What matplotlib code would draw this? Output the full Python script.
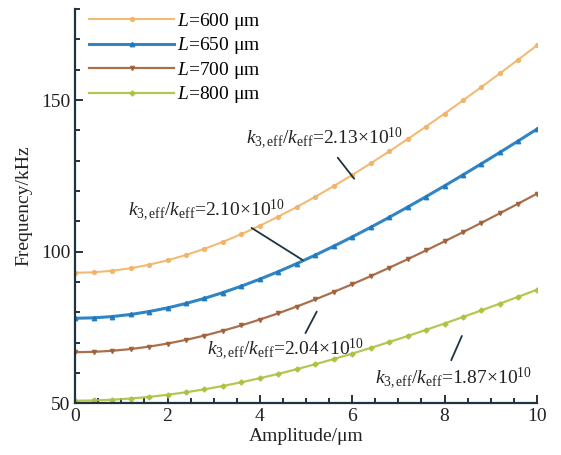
import matplotlib
matplotlib.use("Agg")
import matplotlib.pyplot as plt
import numpy as np

plt.rcParams['font.family'] = ['Liberation Serif', 'DejaVu Serif']
plt.rcParams['mathtext.fontset'] = 'custom'
plt.rcParams['mathtext.rm'] = 'Liberation Serif'
plt.rcParams['mathtext.it'] = 'Liberation Serif:italic'

# amplitude (um) and backbone frequencies (kHz)
amplitude = [0.0, 0.4, 0.8, 1.2, 1.6, 2.0, 2.4, 2.8, 3.2, 3.6, 4.0, 4.4, 4.8,
             5.2, 5.6, 6.0, 6.4, 6.8, 7.2, 7.6, 8.0, 8.4, 8.8, 9.2, 9.6, 10.0]
freq_600 = [93.0, 93.17, 93.67, 94.50, 95.66, 97.12, 98.88, 100.91, 103.22, 105.76,
            108.54, 111.53, 114.71, 118.08, 121.61, 125.28, 129.10, 133.04, 137.10,
            141.26, 145.52, 149.87, 154.30, 158.80, 163.37, 168.0]
freq_650 = [78.0, 78.14, 78.56, 79.25, 80.21, 81.42, 82.88, 84.57, 86.48, 88.60,
            90.91, 93.39, 96.04, 98.84, 101.77, 104.83, 108.01, 111.29, 114.67,
            118.13, 121.68, 125.30, 128.99, 132.74, 136.54, 140.40]
freq_700 = [66.8, 66.92, 67.26, 67.84, 68.64, 69.65, 70.87, 72.28, 73.88, 75.65,
            77.57, 79.65, 81.87, 84.21, 86.67, 89.23, 91.89, 94.65, 97.48, 100.39,
            103.37, 106.41, 109.50, 112.66, 115.85, 119.10]
freq_800 = [50.8, 50.88, 51.12, 51.51, 52.06, 52.75, 53.59, 54.56, 55.66, 56.89,
            58.22, 59.66, 61.20, 62.84, 64.55, 66.34, 68.21, 70.14, 72.13, 74.18,
            76.27, 78.42, 80.61, 82.84, 85.10, 87.40]
labels = ['$L$=600 μm', '$L$=650 μm', '$L$=700 μm', '$L$=800 μm']
ratios = ['2.13', '2.10', '2.04', '1.87']

series = [freq_600, freq_650, freq_700, freq_800]
colors = ['#F2B366', '#1B78BE', '#A0603A', '#AFC040']
markers = ['o', '^', 'v', 'D']
msizes = [2.8, 3.2, 3.0, 2.6]
lwidths = [1.5, 2.2, 1.6, 1.6]
axcol = '#1E3440'

fig = plt.figure(figsize=(5.61, 4.55), dpi=100)
ax = fig.add_axes([0.134, 0.114, 0.823, 0.866])

for y, lab, c, m, ms, lw in zip(series, labels, colors, markers, msizes, lwidths):
    ax.plot(amplitude, y, color=c, lw=lw, marker=m, ms=ms, mfc=c, mec=c,
            alpha=0.9, label=lab)

ax.set_xlim(0, 10)
ax.set_ylim(50, 180)
ax.set_xticks(np.arange(0, 11, 2))
ax.set_xticks(np.arange(0, 10.01, 0.5), minor=True)
ax.set_yticks([50, 100, 150])
ax.set_yticks(np.arange(50, 181, 10), minor=True)
ax.tick_params(which='both', direction='in', colors=axcol, labelcolor='#222222',
               labelsize=14, width=1.4)
ax.tick_params(which='major', length=6)
ax.tick_params(which='minor', length=3.5)
for s in ['top', 'right']:
    ax.spines[s].set_visible(False)
for s in ['left', 'bottom']:
    ax.spines[s].set_color(axcol)
    ax.spines[s].set_linewidth(1.6)

ax.set_xlabel('Amplitude/μm', fontsize=14, color='#222222', labelpad=2)
ax.set_ylabel('Frequency/kHz', fontsize=14, color='#222222', labelpad=6)

leg = ax.legend(loc='upper left', bbox_to_anchor=(0.0, 1.03), frameon=False,
                fontsize=14, handlelength=4.4, handletextpad=0.15,
                labelspacing=0.18, borderaxespad=0.3)

# annotations: text position, leader start, leader end (data units)
text_pos = [(5.41, 137.5), (2.84, 113.5), (4.55, 67.7), (8.2, 58.3)]
lead_start = [(5.65, 131.7), (3.77, 108.3), (5.26, 81.0), (8.40, 73.0)]
lead_end = [(6.08, 123.3), (4.98, 96.7), (4.96, 72.3), (8.12, 63.3)]
for r, tp, ls, le in zip(ratios, text_pos, lead_start, lead_end):
    ax.text(tp[0], tp[1], r'$k_{3,\mathrm{eff}}/k_{\mathrm{eff}}$=' + r + '×10$^{10}$',
            ha='center', va='center', fontsize=14, color='#222222')
    ax.annotate('', xy=le, xytext=ls,
                arrowprops=dict(arrowstyle='-', color=axcol, lw=1.3))

fig.savefig('out.png', dpi=100)
